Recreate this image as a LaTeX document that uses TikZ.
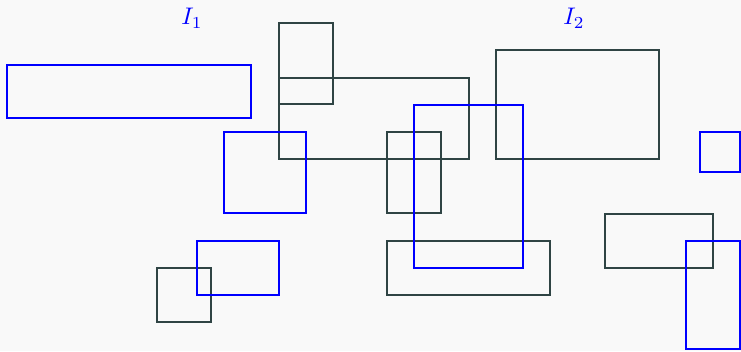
\documentclass[tikz,border=0pt]{standalone}
\usepackage{tikz}
\definecolor{bg}{HTML}{F9F9F9}
\definecolor{dk}{HTML}{2F4444}
\begin{document}
\begin{tikzpicture}[x=1pt,y=-1pt,
  dkbox/.style={draw=dk,line width=1.1pt},
  blbox/.style={draw=blue,line width=1.1pt},
  lab/.style={text=blue,font=\normalsize,scale=2.4,transform shape,inner sep=0pt}]
\fill[bg] (0,0) rectangle (741,351);
\useasboundingbox (0,0) rectangle (741,351);
% dark rectangles
\draw[dkbox] (279,23) rectangle (333,104);
\draw[dkbox] (279,78) rectangle (469,159);
\draw[dkbox] (387,132) rectangle (441,213);
\draw[dkbox] (496,50) rectangle (659,159);
\draw[dkbox] (157,268) rectangle (211,322);
\draw[dkbox] (387,241) rectangle (550,295);
\draw[dkbox] (605,214) rectangle (713,268);
% blue rectangles
\draw[blbox] (7,65) rectangle (251,118);
\draw[blbox] (224,132) rectangle (306,213);
\draw[blbox] (197,241) rectangle (279,295);
\draw[blbox] (414,105) rectangle (523,268);
\draw[blbox] (700,132) rectangle (740,172);
\draw[blbox] (686,241) rectangle (740,349);
% labels
\node[lab] (i1) at (192,18) {$I_1$};
\node[lab] (i2) at (574,18) {$I_2$};
\end{tikzpicture}
\end{document}
